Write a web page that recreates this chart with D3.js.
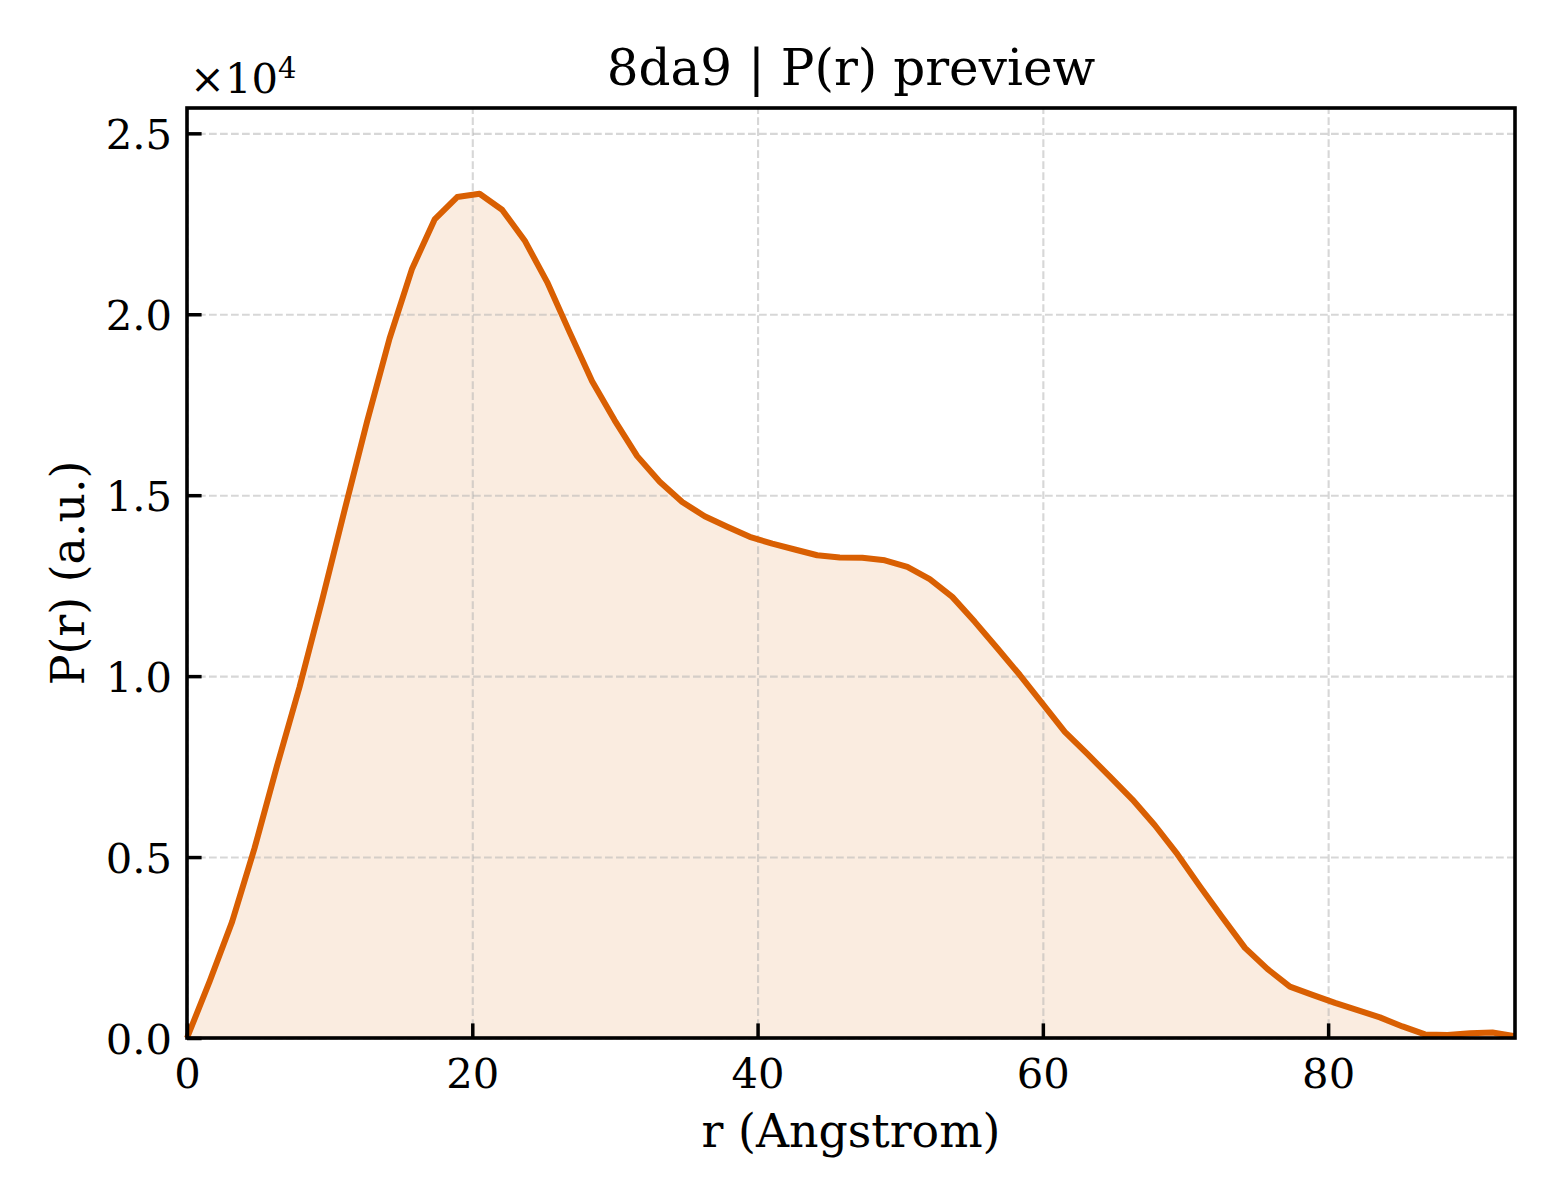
<!DOCTYPE html>
<html lang="en">
  <head>
    <meta charset="UTF-8" />
    <title>8da9 | P(r) preview</title>
    <script src="https://d3js.org/d3.v7.min.js"></script>
    <style>
      body { margin: 0; background: #fff; }
    </style>
  </head>
  <body>
    <div id="my_dataviz"></div>
    <script>
    // r values (Angstrom)
    const rValues = [
      0, 1.58, 3.16, 4.73, 6.31, 7.89, 9.47, 11.05, 12.62, 14.20,
      15.78, 17.36, 18.94, 20.51, 22.09, 23.67, 25.25, 26.83, 28.40, 29.98,
      31.56, 33.14, 34.72, 36.29, 37.87, 39.45, 41.03, 42.61, 44.18, 45.76,
      47.34, 48.92, 50.50, 52.07, 53.65, 55.23, 56.81, 58.39, 59.96, 61.54,
      63.12, 64.70, 66.28, 67.85, 69.43, 71.01, 72.59, 74.17, 75.74, 77.32,
      78.90, 80.48, 82.06, 83.63, 85.21, 86.79, 88.37, 89.95, 91.52, 93.10
    ];

    // P(r) in arbitrary units
    const prValues = [
      0, 1560, 3210, 5240, 7520, 9700, 12100, 14590, 17030, 19330,
      21260, 22620, 23240, 23330, 22890, 22040, 20890, 19500, 18150, 17070,
      16080, 15370, 14810, 14420, 14130, 13850, 13660, 13500, 13340, 13280,
      13270, 13200, 13020, 12680, 12190, 11500, 10770, 10030, 9250, 8460,
      7850, 7220, 6590, 5880, 5080, 4190, 3330, 2490, 1910, 1420,
      1190, 970, 770, 570, 320, 100, 80, 130, 150, 50
    ];

    const xTicks = [0, 20, 40, 60, 80];
    const yTicks = [0, 5000, 10000, 15000, 20000, 25000];
    const xDomain = [0, 93.1];
    const yDomain = [0, 25700];

    (function (d3) {
      const W = 1560, H = 1200;
      const margin = { top: 108, right: 45, bottom: 162, left: 187 };
      const width = W - margin.left - margin.right;
      const height = H - margin.top - margin.bottom;
      const font = '"DejaVu Serif", "Liberation Serif", serif';
      const orange = '#d95f02';
      const tickLen = 14.6;

      const data = rValues.map((r, i) => ({ r: r, p: prValues[i] }));

      const root = d3.select('#my_dataviz')
        .append('svg')
          .attr('width', W)
          .attr('height', H)
          .style('font-family', font);

      root.append('rect')
        .attr('width', W)
        .attr('height', H)
        .attr('fill', '#fff');

      const svg = root.append('g')
        .attr('transform', `translate(${margin.left}, ${margin.top})`);

      const x = d3.scaleLinear().domain(xDomain).range([0, width]);
      const y = d3.scaleLinear().domain(yDomain).range([height, 0]);

      // filled area under the curve
      svg.append('path')
        .datum(data)
        .attr('fill', orange)
        .attr('fill-opacity', 0.12)
        .attr('d', d3.area()
          .x(d => x(d.r))
          .y0(y(0))
          .y1(d => y(d.p)));

      // dashed grid
      const grid = svg.append('g');
      grid.append('g')
        .attr('transform', `translate(0, ${height})`)
        .call(d3.axisBottom(x).tickValues(xTicks).tickSize(-height).tickFormat(''));
      grid.append('g')
        .call(d3.axisLeft(y).tickValues(yTicks).tickSize(-width).tickFormat(''));
      grid.selectAll('.domain').remove();
      grid.selectAll('line')
        .attr('stroke', '#b0b0b0')
        .attr('stroke-opacity', 0.5)
        .attr('stroke-width', 2.1)
        .attr('stroke-dasharray', '7.7,3.3');

      // the curve
      svg.append('path')
        .datum(data)
        .attr('fill', 'none')
        .attr('stroke', orange)
        .attr('stroke-width', 6)
        .attr('stroke-linejoin', 'round')
        .attr('d', d3.line()
          .x(d => x(d.r))
          .y(d => y(d.p)));

      // axes, ticks pointing in
      const xAxis = svg.append('g')
        .attr('transform', `translate(0, ${height})`)
        .call(d3.axisBottom(x).tickValues(xTicks).tickSize(-tickLen).tickFormat(d3.format('d')));
      xAxis.selectAll('text')
        .attr('y', 50)
        .attr('dy', null);

      const yAxis = svg.append('g')
        .call(d3.axisLeft(y).tickValues(yTicks).tickSize(-tickLen).tickPadding(15)
          .tickFormat(d => (d / 1e4).toFixed(1)));
      yAxis.selectAll('text')
        .attr('dy', '0.36em');

      [xAxis, yAxis].forEach(a => {
        a.select('.domain').remove();
        a.selectAll('line')
          .attr('stroke', '#000')
          .attr('stroke-width', 3.5);
        a.selectAll('text')
          .attr('fill', '#000')
          .style('font-family', font)
          .style('font-size', '41.7px');
      });

      // frame
      svg.append('rect')
        .attr('width', width)
        .attr('height', height)
        .attr('fill', 'none')
        .attr('stroke', '#000')
        .attr('stroke-width', 3.6);

      // offset text
      const offset = svg.append('text')
        .attr('x', 3)
        .attr('y', -15)
        .style('font-size', '41.7px')
        .text('×10');
      offset.append('tspan')
        .attr('dy', -15)
        .style('font-size', '29px')
        .text('4');

      // title and labels
      svg.append('text')
        .attr('x', width / 2)
        .attr('y', -23)
        .attr('text-anchor', 'middle')
        .style('font-size', '50px')
        .text('8da9 | P(r) preview');

      svg.append('text')
        .attr('x', width / 2)
        .attr('y', height + 109)
        .attr('text-anchor', 'middle')
        .style('font-size', '45.8px')
        .text('r (Angstrom)');

      svg.append('text')
        .attr('transform', `translate(${84 - margin.left}, ${height / 2}) rotate(-90)`)
        .attr('text-anchor', 'middle')
        .style('font-size', '45.8px')
        .text('P(r) (a.u.)');
    })(d3);
    </script>
  </body>
</html>
